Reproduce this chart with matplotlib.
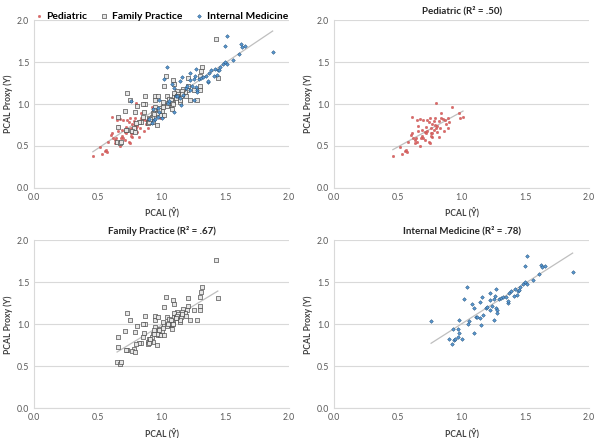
import matplotlib
matplotlib.use('Agg')
import matplotlib.pyplot as plt
import numpy as np

plt.rcParams['font.family'] = ['Lato', 'DejaVu Sans']

# values
ped_x = [0.46, 0.515, 0.53, 0.557, 0.57, 0.61, 0.58, 0.60, 0.61, 0.63, 0.63, 0.64, 0.65, 0.65,
         0.66, 0.67, 0.67, 0.68, 0.69, 0.70, 0.71, 0.71, 0.72, 0.73, 0.73, 0.74, 0.75, 0.75,
         0.76, 0.76, 0.77, 0.77, 0.78, 0.78, 0.79, 0.79, 0.80, 0.81, 0.82, 0.82, 0.83, 0.84,
         0.84, 0.86, 0.87, 0.88, 0.89, 0.89, 0.90, 0.92, 0.98, 0.99, 1.01, 0.85, 0.77, 0.62,
         0.69, 0.74, 0.80, 0.56, 0.66, 0.72, 0.76, 0.81, 0.70]
ped_y = [0.38, 0.49, 0.40, 0.44, 0.43, 0.85, 0.55, 0.63, 0.65, 0.57, 0.53, 0.59, 0.81, 0.55,
         0.74, 0.82, 0.50, 0.59, 0.69, 0.81, 0.67, 0.57, 0.65, 0.68, 0.81, 0.55, 0.53, 0.83,
         0.65, 0.71, 0.76, 0.61, 0.80, 0.69, 0.75, 0.83, 1.01, 0.67, 0.80, 0.61, 0.71, 0.83,
         0.89, 0.68, 0.81, 0.76, 0.71, 0.83, 0.79, 0.97, 0.89, 0.83, 0.85, 0.82, 0.65, 0.60,
         0.62, 0.78, 0.72, 0.45, 0.68, 0.73, 0.62, 0.74, 0.60]

fp_x = [1.425, 1.44, 1.315, 1.31, 1.30, 1.30, 1.30, 1.28, 1.21, 1.21, 1.22, 1.20, 1.17, 1.15,
        1.14, 1.18, 1.12, 1.10, 1.11, 1.09, 1.10, 1.03, 1.02, 1.04, 1.06, 1.07, 1.09, 1.05,
        1.02, 1.01, 0.99, 0.98, 0.97, 0.95, 0.95, 0.95, 0.94, 0.93, 0.92, 0.90, 0.89, 0.89,
        0.87, 0.86, 0.85, 0.84, 0.82, 0.80, 0.78, 0.77, 0.79, 0.73, 0.72, 0.71, 0.73, 0.75,
        0.81, 0.85, 0.79, 0.66, 0.66, 0.65, 0.67, 0.68, 0.87, 0.97, 1.17, 1.25, 1.08, 1.02,
        0.99, 0.96, 0.93, 1.07, 1.12, 1.13, 1.16, 1.19, 1.14, 1.00, 0.91, 1.10, 1.12,
        1.11, 1.12, 1.11, 0.96, 0.98, 1.04, 1.08, 1.16, 1.01, 0.94, 0.90, 0.91, 1.05, 1.09]
fp_y = [1.77, 1.31, 1.44, 1.39, 1.33, 1.22, 1.17, 1.05, 1.31, 1.22, 1.05, 1.17, 1.13, 1.09,
        1.03, 1.14, 1.15, 1.09, 1.11, 1.29, 1.24, 1.33, 1.21, 1.09, 1.06, 0.99, 1.02, 0.99,
        0.99, 1.03, 0.95, 0.91, 0.87, 1.10, 1.05, 0.97, 0.93, 0.89, 0.85, 0.83, 0.79, 0.77,
        1.00, 0.90, 0.85, 0.78, 0.78, 0.77, 0.71, 0.68, 0.67, 0.69, 0.69, 0.92, 1.13, 1.05,
        0.98, 1.00, 0.91, 0.85, 0.73, 0.55, 0.53, 0.55, 1.10, 1.09, 1.18, 1.17, 0.94, 0.87,
        0.87, 0.75, 0.79, 1.05, 1.08, 1.12, 1.15, 1.10, 1.05, 0.92, 0.80, 1.13, 1.09,
        1.08, 1.10, 1.07, 0.89, 0.93, 0.98, 1.01, 1.12, 0.96, 0.88, 0.78, 0.82, 1.01, 1.00]

im_x = [0.76, 0.90, 0.92, 0.93, 0.94, 0.95, 0.97, 0.97, 0.98, 0.98, 1.00, 1.02, 1.04, 1.05,
        1.06, 1.08, 1.10, 1.10, 1.11, 1.12, 1.14, 1.14, 1.15, 1.16, 1.17, 1.19, 1.20, 1.22,
        1.22, 1.22, 1.24, 1.25, 1.25, 1.26, 1.27, 1.27, 1.28, 1.28, 1.29, 1.31, 1.32, 1.35,
        1.36, 1.36, 1.37, 1.39, 1.41, 1.42, 1.43, 1.44, 1.45, 1.46, 1.48, 1.50, 1.50, 1.51,
        1.51, 1.56, 1.61, 1.62, 1.63, 1.65, 1.87]
im_y = [1.04, 0.82, 0.77, 0.94, 0.81, 0.82, 0.85, 0.95, 0.90, 1.05, 0.83, 1.30, 1.44, 1.01,
        1.04, 1.24, 0.90, 1.19, 1.09, 1.09, 1.27, 1.07, 0.99, 1.32, 1.11, 1.19, 1.21, 1.29,
        1.37, 1.17, 1.22, 1.30, 1.05, 1.34, 1.42, 1.20, 1.17, 1.14, 1.30, 1.31, 1.32, 1.33,
        1.26, 1.28, 1.37, 1.40, 1.34, 1.42, 1.35, 1.40, 1.41, 1.44, 1.48, 1.50, 1.69, 1.48,
        1.81, 1.53, 1.60, 1.71, 1.68, 1.69, 1.62]

groups = ['Pediatric', 'Family Practice', 'Internal Medicine']
r2 = ['.50', '.67', '.78']
ticks = [0.0, 0.5, 1.0, 1.5, 2.0]

styles = {
    'Pediatric': dict(marker='o', s=3, facecolor='#e06666', edgecolor='#c0504d', linewidths=0.3),
    'Family Practice': dict(marker='s', s=5, facecolor='#e6e6e6', edgecolor='#404040', linewidths=0.45),
    'Internal Medicine': dict(marker='D', s=3.5, facecolor='#5b9bd5', edgecolor='#1f4e79', linewidths=0.35),
}
data = {'Pediatric': (ped_x, ped_y), 'Family Practice': (fp_x, fp_y), 'Internal Medicine': (im_x, im_y)}


def style_ax(ax):
    ax.set_xlim(0, 2)
    ax.set_ylim(0, 2)
    ax.set_xticks(ticks)
    ax.set_yticks(ticks)
    ax.set_xticklabels(['%.1f' % t for t in ticks])
    ax.set_yticklabels(['%.1f' % t for t in ticks])
    ax.tick_params(length=0, labelsize=6.3, labelcolor='#595959', pad=3.5)
    ax.grid(axis='y', color='#d9d9d9', linewidth=0.8)
    ax.set_axisbelow(True)
    for s in ['top', 'right']:
        ax.spines[s].set_visible(False)
    for s in ['left', 'bottom']:
        ax.spines[s].set_color('#d9d9d9')
        ax.spines[s].set_linewidth(0.8)
    ax.set_xlabel('PCAL (Ŷ)', fontsize=6.2, fontweight='bold', color='#404040', labelpad=4)
    ax.set_ylabel('PCAL Proxy (Y)', fontsize=6.2, fontweight='bold', color='#404040', labelpad=2.5)


def trend(ax, x, y):
    x = np.array(x)
    y = np.array(y)
    k, b = np.polyfit(x, y, 1)
    xs = np.array([x.min(), x.max()])
    ax.plot(xs, k * xs + b, color='#bfbfbf', linewidth=0.9, zorder=1)


fig = plt.figure(figsize=(6, 4.38), dpi=100)
w = 0.425
h = 0.383
ax1 = fig.add_axes([0.057, 0.571, w, h])
ax2 = fig.add_axes([0.557, 0.571, w, h])
ax3 = fig.add_axes([0.057, 0.068, w, h])
ax4 = fig.add_axes([0.557, 0.068, w, h])

# combined panel
for g in groups:
    ax1.scatter(data[g][0], data[g][1], label=g, zorder=3, **styles[g])
trend(ax1, ped_x + fp_x + im_x, ped_y + fp_y + im_y)
style_ax(ax1)
ax1.legend(loc='lower center', bbox_to_anchor=(0.5, 0.985), ncol=3, frameon=False,
           prop={'weight': 'bold', 'size': 7.4}, handlelength=0.6, handletextpad=0.4,
           columnspacing=1.4, markerscale=1.0, borderaxespad=0, borderpad=0.2)

for ax, g, r in zip([ax2, ax3, ax4], groups, r2):
    x, y = data[g]
    ax.scatter(x, y, zorder=3, **styles[g])
    trend(ax, x, y)
    style_ax(ax)
    ax.set_title('%s (R² = %s)' % (g, r), fontsize=7.0, fontweight='bold', color='#262626', pad=5)

fig.savefig('out.png', dpi=100)
